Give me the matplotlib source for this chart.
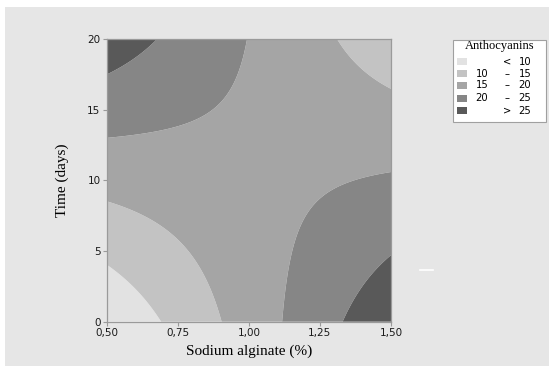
import matplotlib
matplotlib.use("Agg")
import matplotlib.pyplot as plt
from matplotlib.patches import Rectangle
from matplotlib.lines import Line2D
import numpy as np

# corner readings of the response surface (rows: time, cols: sodium alginate)
sodium_alginate = [0.5, 1.5]
time_days = [0, 20]
anthocyanins = [[5.5, 29.0],
                [27.8, 12.0]]

levels = [0, 10, 15, 20, 25, 40]
level_colors = ['#e2e2e2', '#c3c3c3', '#a5a5a5', '#868686', '#595959']
legend_rows = [('', '<', '10'), ('10', '–', '15'), ('15', '–', '20'),
               ('20', '–', '25'), ('', '>', '25')]
x_ticks = [0.5, 0.75, 1.0, 1.25, 1.5]
x_tick_labels = ['0,50', '0,75', '1,00', '1,25', '1,50']
y_ticks = [0, 5, 10, 15, 20]

W, H = 554, 369
fig = plt.figure(figsize=(W / 100, H / 100), dpi=100, facecolor='white')

# gray panel behind everything
fig.patches.append(Rectangle((5 / W, 1 - 366 / H), 544 / W, 359 / H,
                             transform=fig.transFigure, facecolor='#e6e6e6',
                             edgecolor='none', zorder=-10))

ax = fig.add_axes([106.7 / W, 1 - 321.7 / H, 284.3 / W, 282.7 / H])

# bilinear surface through the corner readings
xs = np.linspace(sodium_alginate[0], sodium_alginate[1], 300)
ys = np.linspace(time_days[0], time_days[1], 300)
X, Y = np.meshgrid(xs, ys)
u = (X - sodium_alginate[0]) / (sodium_alginate[1] - sodium_alginate[0])
v = (Y - time_days[0]) / (time_days[1] - time_days[0])
z = np.array(anthocyanins)
Z = (z[0, 0] * (1 - u) * (1 - v) + z[0, 1] * u * (1 - v)
     + z[1, 0] * (1 - u) * v + z[1, 1] * u * v)

ax.contourf(X, Y, Z, levels=levels, colors=level_colors, antialiased=True)

ax.set_xlim(0.5, 1.5)
ax.set_ylim(0, 20)
ax.set_xticks(x_ticks)
ax.set_xticklabels(x_tick_labels)
ax.set_yticks(y_ticks)
for s in ax.spines.values():
    s.set_color('#9a9a9a')
    s.set_linewidth(0.9)
ax.tick_params(direction='out', length=3, width=0.8, color='#9a9a9a',
               labelsize=7.5, labelcolor='#1a1a1a', pad=1.5)

serif = ['Liberation Serif', 'DejaVu Serif']
ax.set_xlabel('Sodium alginate (%)', family=serif, fontsize=11, labelpad=5)
ax.set_ylabel('Time (days)', family=serif, fontsize=11, labelpad=13)

# legend drawn by hand
fig.patches.append(Rectangle((453 / W, 1 - 121.7 / H), 93 / W, 81.7 / H,
                             transform=fig.transFigure, facecolor='white',
                             edgecolor='#a0a0a0', linewidth=0.8, zorder=2))
fig.text(499.5 / W, 1 - 45.7 / H, 'Anthocyanins', family=serif, fontsize=9,
         ha='center', va='center', zorder=3)
row_y = [61.7, 73.6, 85.5, 98.0, 110.5]
for yy, col, (lo, sym, hi) in zip(row_y, level_colors, legend_rows):
    fig.patches.append(Rectangle((457 / W, 1 - (yy + 3.5) / H), 10 / W, 7 / H,
                                 transform=fig.transFigure, facecolor=col,
                                 edgecolor='none', zorder=3))
    fig.text(482 / W, 1 - yy / H, lo, fontsize=7.2, ha='center', va='center', zorder=3)
    fig.text(507 / W, 1 - yy / H, sym, fontsize=7.2, ha='center', va='center', zorder=3)
    fig.text(525 / W, 1 - yy / H, hi, fontsize=7.2, ha='center', va='center', zorder=3)

# small white dash to the right of the plot
fig.add_artist(Line2D([420 / W, 433 / W], [1 - 269.5 / H, 1 - 269.5 / H],
                      transform=fig.transFigure, color='white', linewidth=1.2))

fig.savefig('out.png', dpi=100, facecolor='white')
